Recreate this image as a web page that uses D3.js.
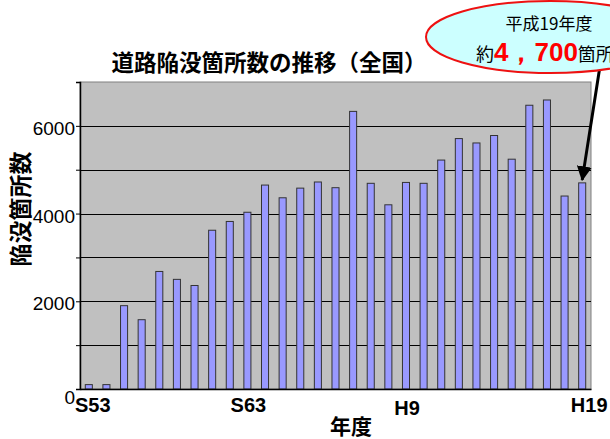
<!DOCTYPE html>
<html>
<head>
<meta charset="utf-8">
<script src="https://cdn.jsdelivr.net/npm/d3@7.9.0/dist/d3.min.js"></script>
<style>
  body { margin: 0; background: #fff; }
  svg { display: block; }
  .jp { font-family: 'Noto Sans CJK JP', sans-serif; }
  .num { font-family: 'Liberation Sans', Arial, sans-serif; }
</style>
</head>
<body>
<svg id="chart" width="610" height="439"></svg>
<script>
// fiscal years (S54..S63, H1..H19)
const years = [
  'S54', 'S55', 'S56', 'S57', 'S58', 'S59', 'S60', 'S61', 'S62', 'S63',
  'H1', 'H2', 'H3', 'H4', 'H5', 'H6', 'H7', 'H8', 'H9', 'H10',
  'H11', 'H12', 'H13', 'H14', 'H15', 'H16', 'H17', 'H18', 'H19',
];
// sinkhole counts
const counts = [
  100, 100, 1900, 1580, 2680, 2500, 2360, 3620, 3820, 4030,
  4650, 4360, 4580, 4720, 4590, 6330, 4690, 4200, 4710, 4690,
  5220, 5710, 5610, 5780, 5240, 6470, 6590, 4400, 4700,
];
const xTickYears = ['S54', 'S63', 'H9', 'H19'];
const xTickLabels = ['S53', 'S63', 'H9', 'H19'];
const yTicks = [0, 2000, 4000, 6000];
const yGrid = [1000, 2000, 3000, 4000, 5000, 6000];

const margin = { top: 82, right: 19, bottom: 50, left: 80 };
const W = 610, H = 439;
const svg = d3.select('#chart');

const x = d3
  .scaleBand()
  .domain(years)
  .range([margin.left, W - margin.right])
  .paddingInner(0.6)
  .paddingOuter(0.3);

const y = d3
  .scaleLinear()
  .domain([0, 7000])
  .range([H - margin.bottom, margin.top]);

// plot background
svg
  .append('rect')
  .attr('x', margin.left)
  .attr('y', margin.top)
  .attr('width', W - margin.right - margin.left)
  .attr('height', H - margin.bottom - margin.top)
  .attr('fill', '#c0c0c0')
  .attr('stroke', '#808080')
  .attr('stroke-width', 1);

// gridlines
svg
  .append('g')
  .selectAll('line')
  .data(yGrid)
  .join('line')
  .attr('x1', margin.left)
  .attr('x2', W - margin.right)
  .attr('y1', (d) => Math.round(y(d)) + 0.5)
  .attr('y2', (d) => Math.round(y(d)) + 0.5)
  .attr('stroke', '#000')
  .attr('stroke-width', 1);

// bars
svg
  .append('g')
  .selectAll('rect')
  .data(counts)
  .join('rect')
  .attr('x', (d, i) => x(years[i]))
  .attr('y', (d) => y(d))
  .attr('width', x.bandwidth())
  .attr('height', (d) => y(0) - y(d))
  .attr('fill', '#9999ff')
  .attr('stroke', '#333')
  .attr('stroke-width', 1);

// y axis
const yAxis = svg
  .append('g')
  .attr('transform', `translate(${margin.left},0)`)
  .call(
    d3
      .axisLeft(y)
      .tickValues(d3.range(0, 7001, 1000))
      .tickSize(4)
      .tickFormat((d) => (yTicks.includes(d) ? d : '')),
  );
yAxis.select('.domain').attr('stroke', '#000').attr('stroke-width', 1.5);
yAxis
  .selectAll('text')
  .attr('class', 'num')
  .attr('font-size', 19)
  .attr('fill', '#000')
  .attr('x', -5)
  .attr('dy', '0.45em');
yAxis.selectAll('.tick')
  .filter((d) => d === 0)
  .select('text')
  .attr('dy', '0.75em');

// x axis
const xAxis = svg
  .append('g')
  .attr('transform', `translate(0,${H - margin.bottom})`)
  .call(
    d3
      .axisBottom(x)
      .tickValues(xTickYears)
      .tickSize(0)
      .tickFormat((d) => xTickLabels[xTickYears.indexOf(d)]),
  );
xAxis.select('.domain').attr('stroke', '#000').attr('stroke-width', 1.5);
xAxis
  .selectAll('text')
  .attr('class', 'num')
  .attr('font-size', 20)
  .attr('font-weight', 'bold')
  .attr('fill', '#000')
  .attr('y', 8)
  .attr('dy', '0.75em')
  .attr('dx', (d) => (d === 'S54' ? 4 : d === 'H19' ? 7 : 1));
xAxis.selectAll('.tick').filter((d) => d === 'H9').select('text').attr('y', 11);

// axis titles
svg
  .append('text')
  .attr('class', 'jp')
  .attr('x', 351)
  .attr('y', 434)
  .attr('text-anchor', 'middle')
  .attr('font-size', 21)
  .attr('font-weight', 'bold')
  .text('年度');

svg
  .append('text')
  .attr('class', 'jp')
  .attr('transform', 'translate(29,209) rotate(-90)')
  .attr('text-anchor', 'middle')
  .attr('font-size', 23)
  .attr('font-weight', 'bold')
  .text('陥没箇所数');

// title
svg
  .append('text')
  .attr('class', 'jp')
  .attr('x', 269)
  .attr('y', 71)
  .attr('text-anchor', 'middle')
  .attr('font-size', 22.5)
  .attr('font-weight', 'bold')
  .text('道路陥没箇所数の推移（全国）');

// arrow to last bar
const last = years[years.length - 1];
const tipX = x(last) + x.bandwidth() / 2;
const tipY = y(counts[counts.length - 1]) - 3;
svg
  .append('defs')
  .append('marker')
  .attr('id', 'head')
  .attr('viewBox', '0 0 10 10')
  .attr('refX', 9)
  .attr('refY', 5)
  .attr('markerWidth', 5)
  .attr('markerHeight', 5)
  .attr('orient', 'auto')
  .append('path')
  .attr('d', 'M0,0L10,5L0,10z')
  .attr('fill', '#000');

svg
  .append('line')
  .attr('x1', 600)
  .attr('y1', 66)
  .attr('x2', tipX)
  .attr('y2', tipY)
  .attr('stroke', '#000')
  .attr('stroke-width', 3)
  .attr('marker-end', 'url(#head)');

// callout
svg
  .append('ellipse')
  .attr('cx', 550)
  .attr('cy', 37)
  .attr('rx', 124)
  .attr('ry', 36)
  .attr('fill', '#ccffff')
  .attr('stroke', '#ee1111')
  .attr('stroke-width', 2);

svg
  .append('text')
  .attr('class', 'jp')
  .attr('x', 549)
  .attr('y', 30)
  .attr('text-anchor', 'middle')
  .attr('font-size', 17)
  .text('平成19年度');

const note = svg
  .append('text')
  .attr('class', 'jp')
  .attr('x', 476)
  .attr('y', 61)
  .attr('font-size', 18);
note.append('tspan').text('約');
note
  .append('tspan')
  .attr('class', 'num')
  .attr('fill', '#ff0000')
  .attr('font-weight', 'bold')
  .attr('font-size', 26)
  .text('4，700');
note.append('tspan').text('箇所');
</script>
</body>
</html>
